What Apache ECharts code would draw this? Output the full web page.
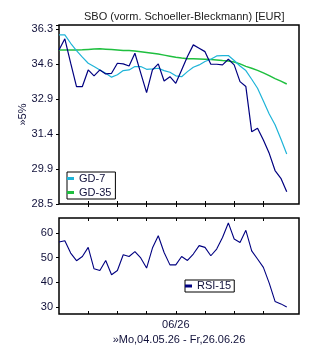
<!DOCTYPE html>
<html>
<head>
<meta charset="utf-8">
<script src="https://cdn.jsdelivr.net/npm/echarts@6/dist/echarts.min.js"></script>
<style>
html, body { margin: 0; padding: 0; background: #fff; }
#chart { width: 310px; height: 350px; }
</style>
</head>
<body>
<div id="chart"></div>
<script>
// Kurs (EUR), 04.05.26 - 26.06.26, one value per trading day
var kurs = [35.27, 35.82, 34.63, 33.53, 33.53, 34.31, 34.03, 34.31, 34.12, 34.15,
            34.63, 34.60, 34.50, 35.11, 34.16, 33.25, 34.31, 34.60, 33.79, 33.99,
            33.68, 34.31, 34.95, 35.52, 35.36, 35.19, 34.58, 34.58, 34.55, 34.82,
            34.55, 33.76, 33.53, 31.50, 31.65, 31.14, 30.57, 29.85, 29.53, 28.99];
var gd7 = [36.02, 36.02, 35.60, 35.24, 34.92, 34.63, 34.47, 34.31, 34.15, 33.97,
           34.08, 34.28, 34.31, 34.47, 34.47, 34.34, 34.36, 34.39, 34.28, 34.20,
           34.03, 33.99, 34.23, 34.44, 34.55, 34.71, 34.82, 34.98, 35.00, 35.00,
           34.76, 34.50, 34.28, 33.87, 33.45, 32.87, 32.28, 31.80, 31.18, 30.54];
var gd35 = [35.27, 35.27, 35.27, 35.27, 35.28, 35.30, 35.32, 35.33, 35.31, 35.29,
            35.27, 35.25, 35.24, 35.22, 35.19, 35.15, 35.11, 35.07, 35.02, 34.97,
            34.92, 34.88, 34.85, 34.84, 34.83, 34.82, 34.81, 34.79, 34.76, 34.74,
            34.69, 34.60, 34.48, 34.39, 34.29, 34.17, 34.04, 33.90, 33.78, 33.65];
var rsi15 = [56.4, 56.9, 51.9, 48.8, 50.5, 54.2, 45.5, 44.8, 48.9, 43.1,
             44.8, 51.2, 50.5, 52.5, 49.9, 45.8, 53.9, 58.9, 52.1, 47.1,
             47.1, 50.5, 48.9, 51.5, 54.9, 54.2, 50.8, 53.5, 58.2, 64.1,
             57.6, 56.2, 61.1, 52.8, 49.5, 46.1, 39.7, 32.3, 31.3, 30.0];

var yTickLabels = ['28.5', '29.9', '31.4', '32.9', '34.6', '36.3'];
var rsiTicks = [30, 40, 50, 60];
var weekTicks = [5, 10, 15, 20, 25, 30, 35];
var monthLabels = {20: '06/26'};

// price axis is logarithmic: map to tick units (0 = 28.5, 5 = 36.3)
var yLow = 28.5, yHigh = 36.3;
var logStep = Math.log(yHigh / yLow) / 5;
function toScale(v) { return Math.log(v / yLow) / logStep; }

function pairs(arr, f) {
    var out = [];
    for (var i = 0; i < arr.length; ++i)
        out.push([i, f ? f(arr[i]) : arr[i]]);
    return out;
}

var font = 'Liberation Sans, Arial, sans-serif';
var txt = '#10103a';
var xMax = 41.1;

function xAxisDef(grid, pos, labels) {
    return {
        type: 'value', gridIndex: grid, position: pos,
        min: 0, max: xMax,
        axisLine: {show: false},
        splitLine: {show: false},
        axisTick: {show: true, inside: true, length: 3, customValues: weekTicks,
                   lineStyle: {color: '#000', width: 1}},
        axisLabel: labels ? {
            show: true, customValues: [20], margin: 5,
            fontFamily: font, fontSize: 11, color: txt,
            formatter: function (v) { return monthLabels[v] || ''; }
        } : {show: false},
        name: labels ? '\u00bbMo,04.05.26 - Fr,26.06.26' : '',
        nameLocation: 'middle', nameGap: 20, nameMoveOverlap: false,
        nameTextStyle: {fontFamily: font, fontSize: 11, color: txt}
    };
}

var option = {
    backgroundColor: '#fff',
    animation: false,
    title: {
        text: 'SBO (vorm. Schoeller-Bleckmann) [EUR]',
        left: 79, top: 6,
        textStyle: {fontFamily: font, fontSize: 11, fontWeight: 'normal', color: '#222'}
    },
    grid: [
        {left: 59, top: 25, width: 240, height: 179, show: true,
         borderColor: '#000', borderWidth: 1.5, backgroundColor: '#fff'},
        {left: 59, top: 218, width: 240, height: 96, show: true,
         borderColor: '#000', borderWidth: 1.5, backgroundColor: '#fff'}
    ],
    legend: [
        {
            data: ['GD-7', 'GD-35'],
            orient: 'vertical', left: 67, top: 172,
            icon: 'rect', itemWidth: 7, itemHeight: 3, itemGap: 1,
            padding: [0, 4, 0, 0],
            borderColor: '#000', borderWidth: 1, backgroundColor: '#fff',
            textStyle: {fontFamily: font, fontSize: 11, color: txt, lineHeight: 13}
        },
        {
            data: ['RSI-15'],
            orient: 'vertical', left: 185, top: 280,
            icon: 'rect', itemWidth: 7, itemHeight: 3,
            padding: [0, 3, 0, 0],
            borderColor: '#000', borderWidth: 1, backgroundColor: '#fff',
            textStyle: {fontFamily: font, fontSize: 11, color: txt, lineHeight: 12}
        }
    ],
    xAxis: [
        xAxisDef(0, 'bottom', false),
        xAxisDef(0, 'top', false),
        xAxisDef(1, 'bottom', true),
        xAxisDef(1, 'top', false)
    ],
    yAxis: [
        {
            type: 'value', gridIndex: 0, position: 'left',
            min: 0, max: 5.12, interval: 1,
            axisLine: {show: false}, splitLine: {show: false},
            axisTick: {show: true, length: 3, lineStyle: {color: '#000'}},
            axisLabel: {
                margin: 6, fontFamily: font, fontSize: 11, color: txt,
                showMaxLabel: false,
                formatter: function (v) { return yTickLabels[v] || ''; }
            },
            name: '\u00bb5%', nameLocation: 'middle', nameGap: 31, nameMoveOverlap: false,
            nameTextStyle: {fontFamily: font, fontSize: 11, color: txt}
        },
        {
            type: 'value', gridIndex: 0, position: 'right',
            min: 0, max: 5.12, interval: 1,
            axisLine: {show: false}, splitLine: {show: false},
            axisTick: {show: true, inside: true, length: 3, lineStyle: {color: '#000'}},
            axisLabel: {show: false}
        },
        {
            type: 'value', gridIndex: 1, position: 'left',
            min: 27.2, max: 66.1,
            axisLine: {show: false}, splitLine: {show: false},
            axisTick: {show: true, length: 3, customValues: rsiTicks, lineStyle: {color: '#000'}},
            axisLabel: {margin: 6, customValues: rsiTicks,
                        fontFamily: font, fontSize: 11, color: txt}
        },
        {
            type: 'value', gridIndex: 1, position: 'right',
            min: 27.2, max: 66.1,
            axisLine: {show: false}, splitLine: {show: false},
            axisTick: {show: true, inside: true, length: 3, customValues: rsiTicks,
                       lineStyle: {color: '#000'}},
            axisLabel: {show: false}
        }
    ],
    series: [
        {
            name: 'GD-35', type: 'line', xAxisIndex: 0, yAxisIndex: 0,
            data: pairs(gd35, toScale), showSymbol: false, color: '#1fbf3f',
            lineStyle: {width: 1.5, color: '#1fbf3f'}
        },
        {
            name: 'GD-7', type: 'line', xAxisIndex: 0, yAxisIndex: 0,
            data: pairs(gd7, toScale), showSymbol: false, color: '#1fb4d8',
            lineStyle: {width: 1.2, color: '#1fb4d8'}
        },
        {
            name: 'SBO', type: 'line', xAxisIndex: 0, yAxisIndex: 0,
            data: pairs(kurs, toScale), showSymbol: false, color: '#000080',
            lineStyle: {width: 1.2, color: '#000080'}
        },
        {
            name: 'RSI-15', type: 'line', xAxisIndex: 2, yAxisIndex: 2,
            data: pairs(rsi15), showSymbol: false, color: '#000080',
            lineStyle: {width: 1.1, color: '#000080'}
        }
    ]
};

var myChart = echarts.init(document.getElementById('chart'));
myChart.setOption(option);
</script>
</body>
</html>
